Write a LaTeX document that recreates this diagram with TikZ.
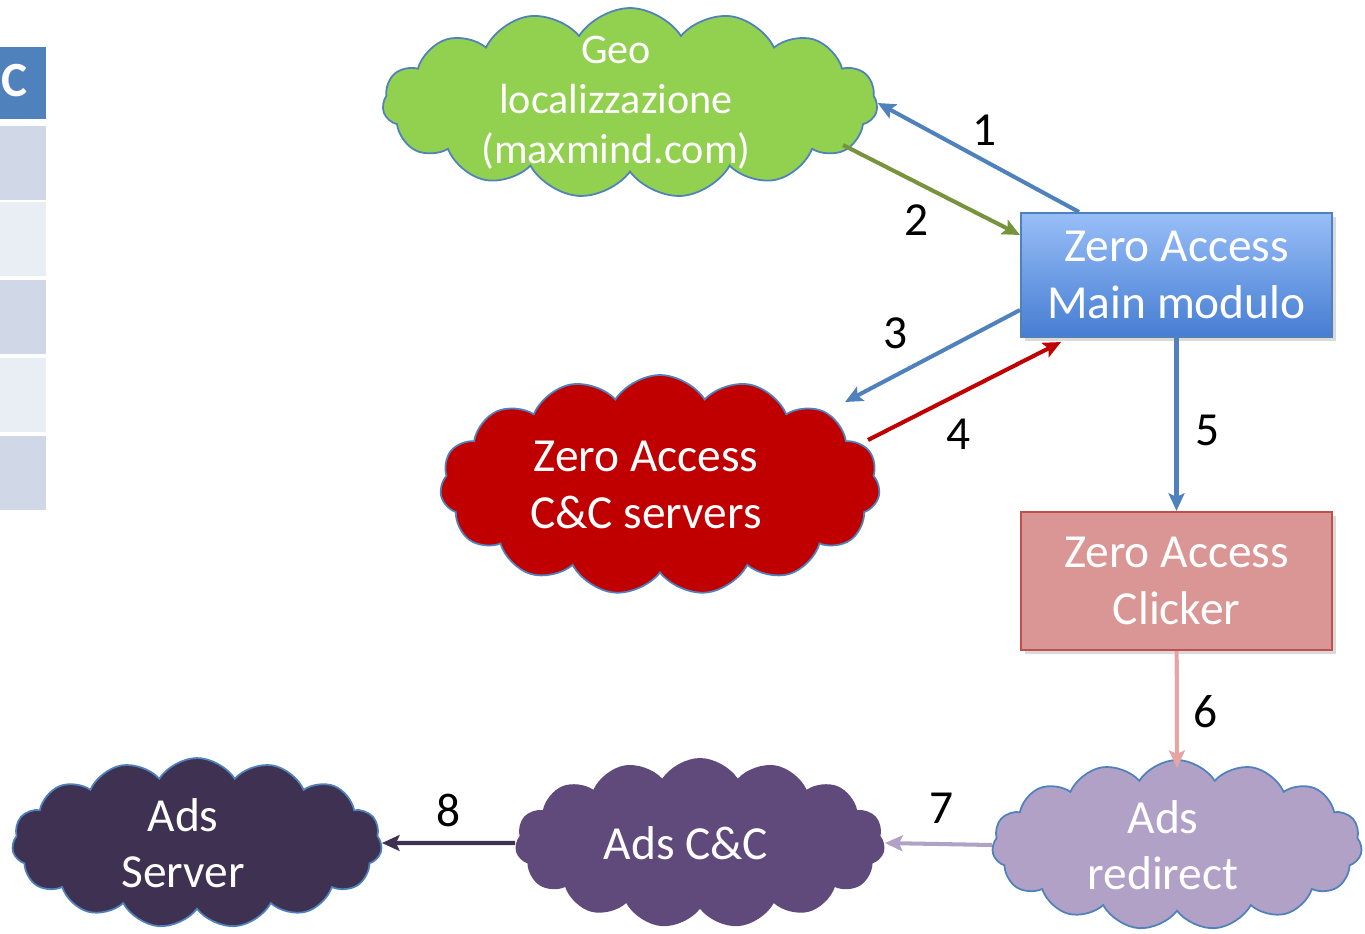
\documentclass[tikz,border=0pt]{standalone}
\usepackage{fontspec}
\setmainfont{Carlito}
\usetikzlibrary{shapes.symbols,arrows.meta,calc,shadows}

\definecolor{geogreen}{HTML}{92D050}
\definecolor{outblue}{HTML}{4F81BD}
\definecolor{ccred}{HTML}{C00000}
\definecolor{arrgreen}{HTML}{77933C}
\definecolor{clickpink}{HTML}{D99694}
\definecolor{clickline}{HTML}{C0504D}
\definecolor{arrpink}{RGB}{230,165,163}
\definecolor{lavender}{HTML}{B2A1C7}
\definecolor{plum}{HTML}{604A7B}
\definecolor{darkplum}{HTML}{3F3151}
\definecolor{mainlight}{RGB}{152,190,248}
\definecolor{maindark}{RGB}{70,125,210}
\definecolor{rowdark}{HTML}{D0D8E8}
\definecolor{rowlight}{HTML}{E9EDF4}

\begin{document}
\begin{tikzpicture}[x=0.02cm,y=-0.02cm,
  puff/.style={cloud, cloud puffs=15, cloud puff arc=115, cloud ignores aspect, draw=outblue, line width=1pt},
  ztext/.style={text=white, align=center, font=\fontsize{27}{32}\selectfont},
  ctext/.style={ztext, xshift=-0.28cm},
  box/.style={rectangle, minimum width=6.22cm, line width=1.2pt, ztext},
  link/.style={line width=2.3pt, -{Stealth[length=10pt,width=9pt,inset=2pt]}},
  num/.style={font=\fontsize{27}{32}\selectfont}]
\useasboundingbox (0,0) rectangle (1365,933);

\fill[outblue] (0,47) rectangle (46,119);
\foreach \y/\c in {126/rowdark,202/rowlight,280/rowdark,358/rowlight,436/rowdark}
  \fill[\c] (0,\y) rectangle (46,\y+74);
\node[text=white, font=\bfseries\fontsize{28}{30}\selectfont, anchor=west, inner sep=0pt] (hdr) at (1,81) {C};

\node[puff, fill=geogreen, minimum width=9.9cm, minimum height=3.8cm,
  label={[ctext, font=\fontsize{24}{28.5}\selectfont]center:Geo\\localizzazione\\(maxmind.com)}] (geo) at (630,103) {};
\node[box, minimum height=2.48cm, top color=mainlight, bottom color=maindark, draw=outblue,
  drop shadow={opacity=0.3}] (main) at (1176.5,275) {Zero Access\\Main modulo};
\node[puff, fill=ccred, minimum width=8.8cm, minimum height=4.4cm,
  label={[ctext]center:Zero Access\\C\&C servers}] (cc) at (660,485) {};
\node[box, minimum height=2.76cm, fill=clickpink, draw=clickline,
  drop shadow={opacity=0.3}] (clicker) at (1176.5,581) {Zero Access\\Clicker};
\node[puff, fill=lavender, minimum width=7.4cm, minimum height=3.4cm,
  label={[ctext]center:Ads\\redirect}] (redirect) at (1177,845) {};
\node[puff, fill=plum, draw=none, minimum width=7.4cm, minimum height=3.4cm,
  label={[ctext]center:Ads C\&C}] (adscc) at (700,843) {};
\node[puff, fill=darkplum, minimum width=7.4cm, minimum height=3.4cm,
  label={[ctext]center:Ads\\Server}] (server) at (197,843) {};

\draw[link, outblue] ([xshift=1.18cm]main.north west) -- (geo.east);
\draw[link, arrgreen] ($(geo.center)+(213,42)$) -- ($(main.west)+(0,-40)$);
\draw[link, outblue] ($(main.west)+(0,35)$) -- ($(cc.center)+(185,-83)$);
\draw[link, ccred] ($(cc.center)+(208,-45)$) -- ($(main.south west)+(41,4)$);
\draw[link, outblue] (main) -- (clicker);
\draw[link, arrpink] (clicker) -- ($(redirect.center)+(0,-77)$);
\draw[link, lavender] (redirect.west) -- (adscc.east);
\draw[link, darkplum] (adscc.west) -- (server.east);

\node[num] (n1) at (985,130) {1};
\node[num] (n2) at (917,220) {2};
\node[num] (n3) at (896,333) {3};
\node[num] (n4) at (959,434) {4};
\node[num] (n5) at (1208,430) {5};
\node[num] (n6) at (1206,712) {6};
\node[num] (n7) at (942,808) {7};
\node[num] (n8) at (449,810) {8};
\end{tikzpicture}
\end{document}
